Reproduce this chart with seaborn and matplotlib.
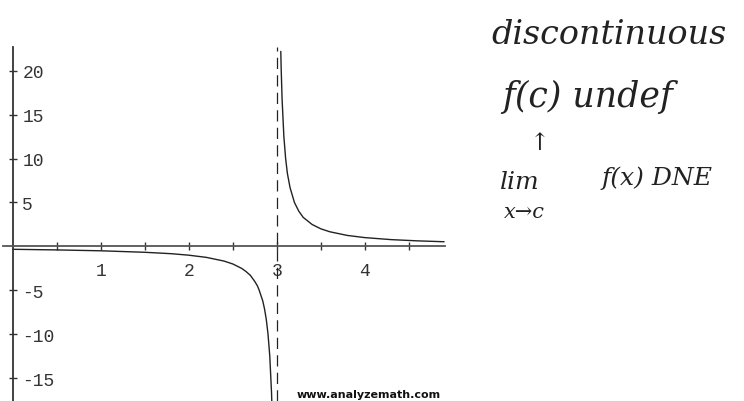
import numpy as np
import pandas as pd
import matplotlib
matplotlib.use("Agg")
import matplotlib.pyplot as plt
import seaborn as sns

# Branch of the curve left of the asymptote
left_x = [0.0, 0.5, 1.0, 1.5, 1.8, 2.0, 2.2, 2.4, 2.5, 2.6, 2.65, 2.7, 2.75, 2.78,
          2.8, 2.82, 2.84, 2.86, 2.88, 2.9, 2.92, 2.94, 2.95, 2.96]
left_y = [-0.33, -0.4, -0.5, -0.67, -0.83, -1.0, -1.25, -1.67, -2.0, -2.5, -2.86, -3.3,
          -4.0, -4.5, -5.0, -5.6, -6.2, -7.1, -8.3, -10.0, -12.5, -16.7, -20.0, -25.0]

# Branch of the curve right of the asymptote
right_x = [3.045, 3.05, 3.06, 3.08, 3.1, 3.12, 3.15, 3.2, 3.25, 3.3, 3.4, 3.5, 3.6,
           3.8, 4.0, 4.3, 4.6, 4.9]
right_y = [22.2, 20.0, 16.7, 12.5, 10.0, 8.3, 6.7, 5.0, 4.0, 3.3, 2.5, 2.0, 1.67,
           1.25, 1.0, 0.77, 0.63, 0.53]

asymptote_x = 3
x_ticks = [1, 2, 3, 4]
x_minor_ticks = [0.5, 1.5, 2.5, 3.5, 4.5]
y_ticks = [-15, -10, -5, 5, 10, 15, 20]

df = pd.DataFrame({
    "x": left_x + right_x,
    "y": left_y + right_y,
    "branch": ["left"] * len(left_x) + ["right"] * len(right_x),
})

sns.set_style("white")
plt.rcParams["font.family"] = ["Liberation Mono", "DejaVu Sans"]

fig = plt.figure(figsize=(7.44, 4.02), dpi=100)
ax = fig.add_axes([3 / 744, 0.0, (445 - 3) / 744, 1 - 48 / 402])

sns.lineplot(data=df, x="x", y="y", units="branch", estimator=None,
             color="#222222", linewidth=1.0, ax=ax, sort=False)

ax.axvline(asymptote_x, color="#222222", linewidth=0.9, linestyle=(0, (9, 5)))

ax.set_xlim(-0.11, 4.91)
ax.set_ylim(-17.6, 22.7)

# Axes through the origin
for side in ("top", "right"):
    ax.spines[side].set_visible(False)
ax.spines["left"].set_position(("data", 0))
ax.spines["bottom"].set_position(("data", 0))
ax.spines["left"].set_color("#333333")
ax.spines["bottom"].set_color("#555555")
ax.spines["left"].set_linewidth(1.3)
ax.spines["bottom"].set_linewidth(1.3)

ax.set_xticks(x_ticks)
ax.set_xticks(x_minor_ticks, minor=True)
ax.set_yticks(y_ticks)
ax.set_yticklabels([str(v) for v in y_ticks])
ax.set_xlabel("")
ax.set_ylabel("")
ax.tick_params(axis="both", which="both", direction="inout", length=6,
               width=1.0, color="#333333", labelsize=13, labelcolor="#333333")
ax.tick_params(axis="x", which="both", bottom=True, top=False, pad=8)
ax.tick_params(axis="y", which="both", left=True, right=False, labelleft=True, pad=-10)
for lbl in ax.get_yticklabels():
    lbl.set_horizontalalignment("left")

fig.text(441 / 744, 1 - 395 / 402, "www.analyzemath.com", fontsize=8,
         fontweight="bold", family="DejaVu Sans", ha="right", va="center",
         color="#111111")

# Handwritten notes
note = dict(family="DejaVu Serif", style="italic", color="#222222")
fig.text(609 / 744, 1 - 35 / 402, "discontinuous", fontsize=24, ha="center", va="center", **note)
fig.text(588 / 744, 1 - 97 / 402, "f(c) undef", fontsize=25, ha="center", va="center", **note)
fig.text(540 / 744, 1 - 143 / 402, "↑", fontsize=17, ha="center", va="center", **note)
fig.text(520 / 744, 1 - 183 / 402, "lim", fontsize=18, ha="center", va="center", **note)
fig.text(657 / 744, 1 - 178 / 402, "f(x) DNE", fontsize=18, ha="center", va="center", **note)
fig.text(524 / 744, 1 - 212 / 402, "x→c", fontsize=15, ha="center", va="center", **note)

fig.savefig("out.png", dpi=100)
